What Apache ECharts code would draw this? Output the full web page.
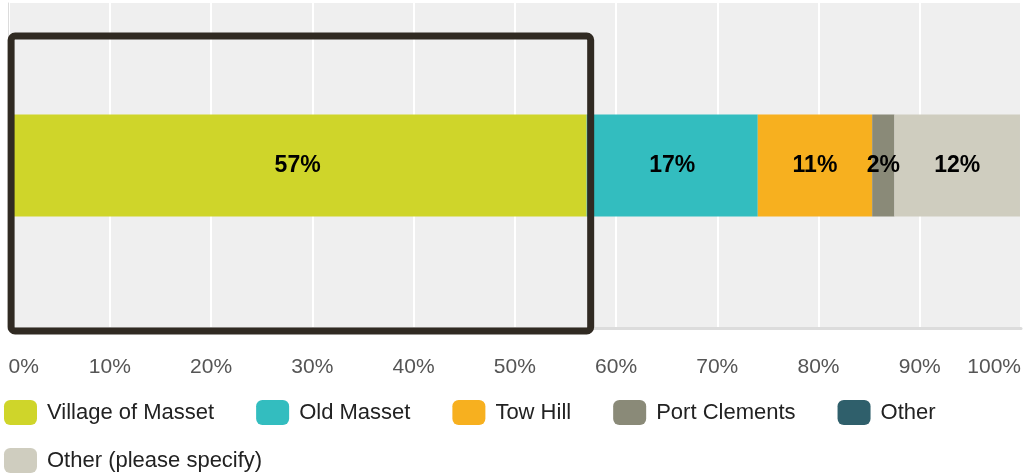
<!DOCTYPE html>
<html>
<head>
<meta charset="utf-8">
<script src="https://cdn.jsdelivr.net/npm/echarts@6/dist/echarts.min.js"></script>
<style>
  html, body { margin: 0; padding: 0; background: #fff; }
  #chart { width: 1024px; height: 473px; }
</style>
</head>
<body>
<div id="chart"></div>
<script>
// single category, percentages
var categories = [''];
var seriesNames = ['Village of Masset', 'Old Masset', 'Tow Hill', 'Port Clements', 'Other', 'Other (please specify)'];
var seriesValues = [57.1, 16.9, 11.3, 2.2, 0, 12.4];
var seriesColors = ['#cfd52a', '#33bdbf', '#f7b01f', '#8a8a78', '#2f5f6b', '#cfcdbf'];
var tickLabels = ['0%', '10%', '20%', '30%', '40%', '50%', '60%', '70%', '80%', '90%', '100%'];

var myChart = echarts.init(document.getElementById('chart'));

var series = [];
for (var i = 0; i < seriesNames.length; i++) {
    series.push({
        name: seriesNames[i],
        type: 'bar',
        stack: 'total',
        barWidth: 102,
        itemStyle: { color: seriesColors[i] },
        label: {
            show: true,
            position: 'inside',
            color: '#000',
            fontFamily: 'Liberation Sans, Arial, sans-serif',
            fontWeight: 'bold',
            fontSize: 23,
            formatter: function(p) {
                return p.value > 0 ? Math.round(p.value) + '%' : '';
            }
        },
        data: [seriesValues[i]]
    });
}

var legendText = { fontSize: 22, color: '#222', fontFamily: 'Liberation Sans, Arial, sans-serif', padding: [0, 0, 0, 5] };

var option = {
    animation: false,
    grid: {
        left: 8.6,
        right: 2,
        top: 3,
        bottom: 145,
        show: true,
        backgroundColor: '#efefef',
        borderWidth: 0
    },
    xAxis: {
        type: 'value',
        min: 0,
        max: 100,
        interval: 10,
        axisLine: { show: true, lineStyle: { color: '#dcdcdc', width: 3 } },
        axisTick: { show: false },
        splitLine: { show: true, lineStyle: { color: '#ffffff', width: 2 } },
        axisLabel: {
            margin: 29,
            fontSize: 21,
            color: '#555',
            fontFamily: 'Liberation Sans, Arial, sans-serif',
            alignMinLabel: 'left',
            alignMaxLabel: 'right',
            formatter: function(v) { return tickLabels[Math.round(v / 10)]; }
        }
    },
    yAxis: {
        type: 'category',
        data: categories,
        axisLine: { show: true, lineStyle: { color: '#dcdcdc', width: 1 } },
        axisTick: { show: false },
        axisLabel: { show: false }
    },
    legend: [
        {
            data: seriesNames.slice(0, 5),
            left: 4,
            top: 400,
            padding: 0,
            icon: 'roundRect',
            itemWidth: 33,
            itemHeight: 25,
            itemGap: 42,
            textStyle: legendText
        },
        {
            data: seriesNames.slice(5),
            left: 4,
            top: 448,
            padding: 0,
            icon: 'roundRect',
            itemWidth: 33,
            itemHeight: 25,
            textStyle: legendText
        }
    ],
    series: series
};
myChart.setOption(option);

// highlight box around the first segment, positioned from the axis
var x0 = myChart.convertToPixel({ xAxisIndex: 0 }, 0);
var x1 = myChart.convertToPixel({ xAxisIndex: 0 }, seriesValues[0]);
myChart.setOption({
    graphic: [{
        type: 'rect',
        z: 100,
        shape: { x: x0 + 2.5, y: 36, width: x1 - x0 + 1.5, height: 295, r: 4 },
        style: { fill: 'none', stroke: '#302a22', lineWidth: 7 }
    }]
});
</script>
</body>
</html>
